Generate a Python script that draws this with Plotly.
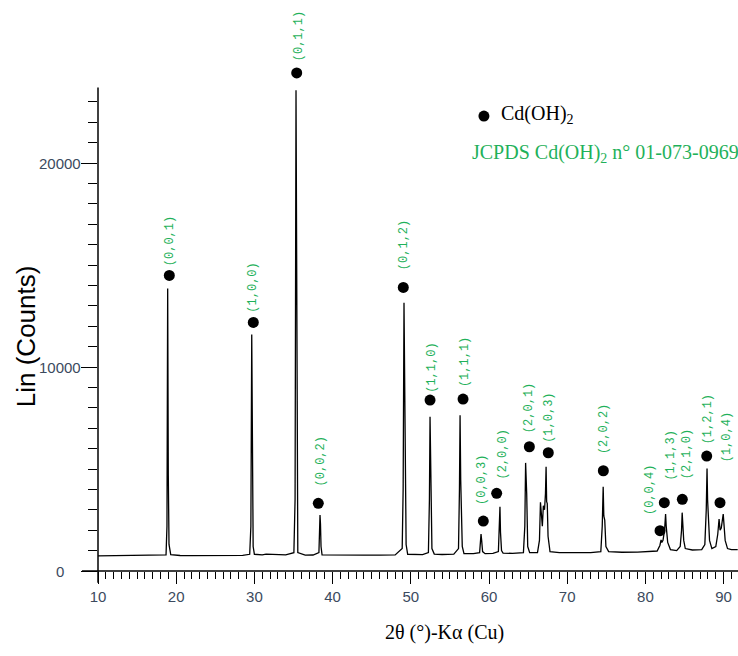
import plotly.graph_objects as go

# ---- XRD trace (2theta in degrees, counts) ----
two_theta = [10.0, 11.0, 12.5, 14.0, 15.5, 16.5, 18.0, 18.70, 18.82, 18.91, 18.99, 19.08, 19.3,
             20.5, 22.0, 24.0, 25.0, 27.0, 28.5, 29.40, 29.55, 29.66, 29.74, 29.84, 30.0, 31.0, 31.5,
             32.5, 34.0, 35.05, 35.20, 35.32, 35.40, 35.45, 35.55, 36.5, 37.5, 38.25, 38.33, 38.39,
             38.45, 38.52, 38.65, 40.0, 42.0, 44.0, 46.0, 48.0, 48.90, 49.02, 49.13, 49.25, 49.30,
             49.40, 49.6, 50.5, 51.5, 52.25, 52.38, 52.46, 52.52, 52.60, 52.70, 53.0, 54.0, 55.5,
             56.10, 56.22, 56.30, 56.38, 56.45, 56.58, 56.8, 58.0, 58.8, 58.9, 58.98, 59.06, 59.18,
             59.5, 60.5, 61.2, 61.32, 61.40, 61.47, 61.6, 61.8, 63.0, 64.4, 64.58, 64.68, 64.75,
             64.82, 64.95, 65.2, 66.2, 66.45, 66.58, 66.68, 66.75, 66.82, 66.95, 67.1, 67.22, 67.30,
             67.37, 67.45, 67.55, 67.8, 69.0, 71.0, 73.0, 74.3, 74.48, 74.60, 74.68, 74.80, 74.95,
             75.3, 77.0, 79.0, 80.5, 81.5, 81.85, 82.0, 82.1, 82.25, 82.45, 82.58, 82.66, 82.72,
             82.85, 83.2, 84.0, 84.45, 84.62, 84.70, 84.78, 84.90, 85.1, 86.0, 87.2, 87.6, 87.78,
             87.88, 87.95, 88.05, 88.20, 88.5, 89.0, 89.25, 89.42, 89.55, 89.70, 89.95, 90.05,
             90.20, 90.5, 91.0, 91.8]
counts = [740, 745, 740, 750, 765, 745, 755, 790, 2200, 13850, 4700, 1300, 800,
          760, 755, 760, 750, 760, 770, 820, 2200, 11600, 3800, 1200, 820, 790, 830,
          800, 790, 900, 3500, 23570, 12200, 3000, 900, 780, 785, 900, 2100, 2740,
          2300, 1200, 790, 780, 775, 780, 780, 790, 1100, 4000, 13150, 7000, 4000,
          1300, 820, 800, 800, 900, 3500, 7560, 5000, 3300, 1100, 830, 810, 830,
          1100, 4000, 7640, 4500, 3500, 1200, 850, 850, 900, 1300, 1810, 1500, 950,
          850, 860, 950, 2300, 3150, 1900, 1000, 880, 860, 900, 2200, 5300, 4700,
          3800, 1200, 900, 900, 1500, 3370, 3000, 2400, 2200, 3200, 3000, 3800, 5110,
          3400, 3300, 1700, 950, 900, 910, 900, 950, 2200, 4130, 2700, 2500, 1200,
          950, 920, 930, 950, 980, 1250, 1520, 1400, 1500, 2000, 2790, 2200, 1800,
          1400, 1050, 1000, 1200, 2000, 2860, 2000, 1500, 1100, 1030, 1050, 1300, 3000,
          5030, 3500, 2300, 1500, 1100, 1200, 1800, 2550, 2000, 2100, 2790, 2400,
          1500, 1100, 1050, 1050]

# ---- Cd(OH)2 reflection markers and labels ----
hkl_labels = ["(0,0,1)", "(1,0,0)", "(0,1,1)", "(0,0,2)", "(0,1,2)", "(1,1,0)", "(1,1,1)",
              "(0,0,3)", "(2,0,0)", "(2,0,1)", "(1,0,3)", "(2,0,2)", "(0,0,4)", "(1,1,3)",
              "(2,1,0)", "(1,2,1)", "(1,0,4)"]
marker_x = [19.12, 29.86, 35.41, 38.17, 49.04, 52.46, 56.68, 59.27, 60.98, 65.16, 67.58,
            74.62, 81.87, 82.42, 84.72, 87.84, 89.54]
marker_y = [14490, 12186, 24417, 3317, 13901, 8379, 8428, 2450, 3807, 6091, 5797,
            4915, 1975, 3347, 3513, 5635, 3347]
label_x = [19.21, 29.82, 35.70, 38.48, 49.13, 52.67, 56.93, 59.10, 61.79, 65.12, 67.58,
           74.71, 80.59, 83.15, 85.28, 88.04, 90.40]
label_y = [16170, 13890, 26215, 5356, 15974, 9947, 10241, 4459, 5709, 7987, 7522,
           6958, 3969, 5660, 5709, 7448, 6542]

x_ticks = [10, 20, 30, 40, 50, 60, 70, 80, 90]
y_ticks = [0, 10000, 20000]
y_tick_text = ["0", "10000", "20000"]
y_minor = [v for v in range(1000, 24000, 1000) if v % 10000 != 0]
Y_AXIS_TOP = 23700
Y_RANGE_TOP = 27600

GREEN = "#1fb15a"
TICKCOL = "#3b4a5e"
SANS = "Liberation Sans, Arial, sans-serif"
SERIF = "Liberation Serif, Times New Roman, serif"

fig = go.Figure()
fig.add_trace(go.Scatter(x=two_theta, y=counts, mode="lines",
                         line=dict(color="black", width=1.3), showlegend=False,
                         hoverinfo="skip"))
fig.add_trace(go.Scatter(x=marker_x, y=marker_y, mode="markers",
                         marker=dict(color="black", size=11), cliponaxis=False,
                         showlegend=False))

for lx, ly, t in zip(label_x, label_y, hkl_labels):
    fig.add_annotation(x=lx, y=ly, xref="x", yref="y", text=t, showarrow=False,
                       textangle=-90, xanchor="center", yanchor="middle",
                       font=dict(family="Liberation Mono, Courier New, monospace",
                                 size=12, color=GREEN))

# y tick labels, centred in a column left of the axis (as in the reference)
for v, t in zip(y_ticks, y_tick_text):
    fig.add_annotation(x=-0.059, y=v, xref="paper", yref="y", text=t, showarrow=False,
                       xanchor="center", yanchor="middle",
                       font=dict(family=SANS, size=15, color=TICKCOL))

# legend-like block
fig.add_shape(type="circle", xref="paper", yref="paper", xsizemode="pixel",
              ysizemode="pixel", xanchor=0.603, yanchor=0.808,
              x0=-5.5, x1=5.5, y0=-5.5, y1=5.5,
              fillcolor="black", line=dict(color="black", width=0))
fig.add_annotation(x=0.626, y=0.810, xref="paper", yref="paper",
                   text="Cd(OH)<sub>2</sub>", showarrow=False, xanchor="left",
                   yanchor="middle", font=dict(family=SERIF, size=20, color="black"))
fig.add_annotation(x=0.582, y=0.742, xref="paper", yref="paper",
                   text="JCPDS Cd(OH)<sub>2</sub> n° 01-073-0969", showarrow=False,
                   xanchor="left", yanchor="middle",
                   font=dict(family=SERIF, size=20, color=GREEN))

# axis titles
fig.add_annotation(x=-0.1125, y=0.417, xref="paper", yref="paper", text="Lin (Counts)",
                   showarrow=False, textangle=-90, xanchor="center", yanchor="middle",
                   font=dict(family=SANS, size=26, color="black"))
fig.add_annotation(x=0.542, y=-0.11, xref="paper", yref="paper", text="2θ (°)-Kα (Cu)",
                   showarrow=False, xanchor="center", yanchor="middle",
                   font=dict(family=SERIF, size=20, color="black"))

# axis lines (crossing style)
fig.add_shape(type="line", xref="paper", yref="paper", x0=-0.025, x1=1.0, y0=0, y1=0,
              line=dict(color="black", width=1.5))
fig.add_shape(type="line", xref="paper", yref="paper", x0=0, x1=0, y0=-0.021,
              y1=Y_AXIS_TOP / Y_RANGE_TOP, line=dict(color="black", width=1.5))

fig.update_layout(
    width=738, height=656,
    margin=dict(l=98, r=0, t=8, b=85, autoexpand=False),
    paper_bgcolor="white", plot_bgcolor="white",
    xaxis=dict(range=[10, 91.84], tickvals=x_ticks, ticks="outside", ticklen=12,
               tickwidth=1, tickcolor="black", showgrid=False, zeroline=False,
               showline=False, automargin=False,
               minor=dict(dtick=1, tick0=10, ticks="outside", ticklen=7,
                          tickcolor="black", tickwidth=1, showgrid=False),
               tickfont=dict(family=SANS, size=15, color=TICKCOL)),
    yaxis=dict(range=[0, Y_RANGE_TOP], tickvals=y_ticks, showticklabels=False,
               ticks="outside", ticklen=16,
               tickwidth=1, tickcolor="black", showgrid=False, zeroline=False,
               showline=False, automargin=False,
               minor=dict(tickvals=y_minor, ticks="outside", ticklen=9,
                          tickcolor="black", tickwidth=1, showgrid=False)),
)

fig.write_html("out.html", config={"displayModeBar": False},
               post_script="document.body.style.margin='0px';"
                           "document.body.style.overflow='hidden';")
